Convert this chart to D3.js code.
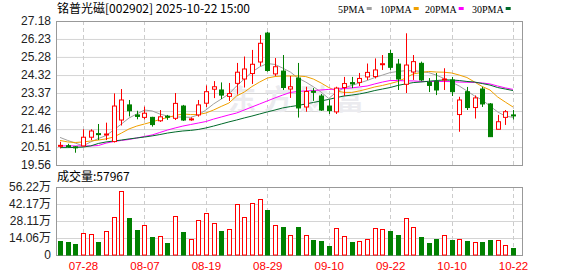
<!DOCTYPE html>
<html>
<head>
<meta charset="utf-8">
<script src="https://d3js.org/d3.v7.min.js"></script>
<style>
  body { margin: 0; background: #fff; }
  svg text { font-family: "Liberation Sans", Arial, "Noto Sans CJK SC", sans-serif; }
</style>
</head>
<body>
<div id="chart"></div>
<script>
// ---- data ----
const dates = ['07-23','07-24','07-25','07-28','07-29','07-30','07-31','08-01','08-04','08-05',
  '08-06','08-07','08-08','08-11','08-12','08-13','08-14','08-15','08-18','08-19',
  '08-20','08-21','08-22','08-25','08-26','08-27','08-28','08-29','09-01','09-02',
  '09-03','09-04','09-05','09-08','09-09','09-10','09-11','09-12','09-15','09-16',
  '09-17','09-18','09-19','09-22','09-23','09-24','09-25','09-26','09-29','09-30',
  '10-09','10-10','10-13','10-14','10-15','10-16','10-17','10-20','10-21','10-22'];

const open  = [20.60,20.58,20.52,20.57,21.03,21.22,21.17,20.80,21.94,22.74,
  22.21,22.08,22.08,21.90,22.14,22.03,22.68,21.97,22.21,22.83,
  23.57,23.53,23.19,23.88,24.11,24.40,25.01,26.54,24.38,24.53,
  23.58,24.16,22.63,23.46,23.21,22.68,22.37,23.66,23.92,23.93,
  24.22,24.24,24.88,25.46,24.90,23.83,24.48,24.94,23.93,23.97,
  24.06,24.06,22.23,23.44,22.60,23.58,22.79,21.45,22.08,22.21];
const high  = [20.79,20.68,20.55,21.45,21.45,21.73,21.80,23.35,23.58,23.00,
  22.43,22.65,22.11,22.47,22.21,23.37,22.74,22.08,23.00,23.77,
  24.00,23.93,23.90,24.96,25.30,25.65,26.44,26.60,25.22,25.38,
  24.27,24.96,23.70,23.63,23.32,23.00,23.70,24.22,24.22,24.43,
  24.93,25.20,25.38,25.65,25.17,26.53,25.38,25.03,24.16,24.43,
  24.68,24.22,23.17,23.69,23.24,23.70,22.84,22.21,22.47,22.47];
const low   = [20.44,20.50,20.21,20.55,20.88,20.88,20.88,20.75,21.65,22.13,
  21.98,21.98,21.59,21.84,21.95,21.94,21.89,21.90,22.12,22.63,
  23.10,23.05,22.95,23.29,23.66,23.85,24.80,24.50,24.27,23.53,
  23.11,22.07,22.38,22.95,22.42,22.26,22.26,23.21,23.63,23.74,
  24.06,24.14,24.59,24.59,23.53,23.37,24.06,24.00,23.42,23.26,
  23.53,23.21,21.32,22.47,22.02,22.63,21.05,21.45,21.68,21.97];
const close = [20.60,20.55,20.48,21.03,21.36,21.17,21.20,22.68,23.00,22.43,
  22.13,22.30,21.70,22.11,22.10,22.82,21.94,22.00,22.74,23.44,
  23.70,23.26,23.34,24.47,24.64,24.89,26.00,24.56,24.76,23.66,
  23.70,22.58,23.45,23.42,22.47,22.44,23.63,23.87,23.85,24.14,
  24.46,24.59,24.92,24.73,24.11,24.85,25.03,24.06,23.77,23.53,
  24.11,23.44,23.00,22.60,23.11,22.79,21.06,21.85,22.38,22.16];

// volume, in 万手
const volume = [11.8,11.0,9.3,18.2,17.4,11.0,19.8,31.4,52.7,30.6,
  20.9,24.5,15.1,15.4,10.2,32.0,19.3,13.0,28.7,34.5,
  26.2,19.8,21.2,41.9,31.2,42.7,46.0,37.2,24.5,23.1,
  16.3,23.1,16.3,12.4,11.6,7.4,22.0,15.4,11.0,11.6,
  13.0,22.0,21.2,19.8,16.5,30.3,22.9,14.9,9.9,13.2,
  16.3,12.4,13.2,11.6,10.5,10.7,12.4,12.1,8.0,5.7967];

const ma5  = [21.02,20.86,20.72,20.57,20.78,20.96,21.12,21.41,21.73,22.05,
  22.26,22.47,22.42,22.26,22.15,22.10,22.10,22.08,22.21,22.47,
  22.79,23.05,23.32,23.74,24.11,24.48,24.75,24.93,24.88,24.69,
  24.48,24.16,23.95,23.70,23.42,23.08,23.42,23.64,23.77,23.90,
  24.03,24.19,24.32,24.45,24.51,24.55,24.55,24.51,24.45,24.32,
  24.14,23.95,23.74,23.48,23.21,23.00,22.68,22.37,22.15,22.08];
const ma10 = [20.86,20.78,20.75,20.78,20.83,20.88,20.94,21.04,21.25,21.47,
  21.62,21.73,21.84,21.97,22.07,22.18,22.26,22.23,22.23,22.31,
  22.47,22.66,22.84,23.21,23.42,23.71,23.95,24.16,24.24,24.27,
  24.27,24.27,24.24,24.11,23.90,23.66,23.48,23.40,23.40,23.48,
  23.58,23.69,23.77,23.87,23.98,24.16,24.38,24.45,24.51,24.48,
  24.47,24.43,24.32,24.19,23.95,23.71,23.53,23.16,22.89,22.63];
const ma20 = [20.57,20.57,20.57,20.57,20.57,20.59,20.72,20.80,20.86,20.91,
  20.99,21.07,21.15,21.28,21.41,21.52,21.62,21.70,21.78,21.86,
  21.99,22.10,22.21,22.31,22.47,22.63,22.79,22.95,23.11,23.26,
  23.40,23.45,23.48,23.50,23.53,23.56,23.58,23.61,23.64,23.69,
  23.74,23.85,23.95,24.03,24.03,24.01,24.01,23.98,23.98,23.98,
  23.98,23.97,23.95,23.94,23.93,23.90,23.85,23.74,23.64,23.56];
const ma30 = [20.48,20.48,20.49,20.51,20.57,20.70,20.78,20.83,20.88,20.94,
  20.99,21.04,21.10,21.17,21.25,21.31,21.36,21.39,21.44,21.52,
  21.62,21.73,21.84,21.94,22.05,22.15,22.26,22.37,22.47,22.58,
  22.65,22.71,22.79,22.87,22.95,23.03,23.13,23.21,23.26,23.32,
  23.40,23.50,23.58,23.66,23.77,23.85,23.92,23.95,23.99,24.03,
  24.06,24.06,24.03,23.98,23.95,23.87,23.79,23.66,23.58,23.50];

const priceTicks = [19.56,20.51,21.46,22.42,23.37,24.32,25.28,26.23,27.18];
const volTicks = [0,14.06,28.11,42.17,56.22];
const dateTicks = ['07-28','08-07','08-19','08-29','09-10','09-22','10-10','10-22'];
const maNames = ['5PMA','10PMA','20PMA','30PMA'];
const maColors = ['#a0a0a0','#f0a000','#ff00ff','#006a2a'];

// ---- layout ----
const W = 578, H = 276;
const left = 56, right = 522;
const pTop = 21, pBot = 165, vTop = 187, vBot = 255;
const RED = '#ff0000', GREEN = '#008000';

const svg = d3.select('#chart').append('svg')
  .attr('width', W).attr('height', H);

const x = d3.scalePoint().domain(dates).range([60, 513]);
const y = d3.scaleLinear().domain([19.56, 27.18]).range([pBot, pTop]);
const yv = d3.scaleLinear().domain([0, 56.22]).range([vBot, vTop]);
const px = d => Math.round(x(d)) + 0.5;

// grid lines
svg.append('g')
  .attr('transform', `translate(${left},0)`)
  .call(d3.axisRight(y).tickValues(priceTicks).tickSize(right - left).tickFormat(''))
  .call(g => g.select('.domain').remove())
  .selectAll('line').attr('stroke', '#d4d4d4');
svg.append('g')
  .attr('transform', `translate(${left},0)`)
  .call(d3.axisRight(yv).tickValues(volTicks).tickSize(right - left).tickFormat(''))
  .call(g => g.select('.domain').remove())
  .selectAll('line').attr('stroke', '#d4d4d4');

[[pTop, pBot], [vTop, vBot]].forEach(([t, b]) => {
  svg.append('g').selectAll('line').data(dateTicks).join('line')
    .attr('x1', px).attr('x2', px).attr('y1', t).attr('y2', b)
    .attr('stroke', '#cccccc').attr('stroke-dasharray', '4,3');
});

// watermark
svg.append('text')
  .attr('x', 300).attr('y', 110)
  .attr('text-anchor', 'middle')
  .style('font-family', '"Noto Sans CJK SC", sans-serif')
  .style('font-size', '28px').style('font-weight', 'bold')
  .style('letter-spacing', '8px')
  .attr('fill', '#ebebef')
  .text('东方财富');

// borders
[[pTop, pBot], [vTop, vBot]].forEach(([t, b]) => {
  svg.append('rect')
    .attr('x', left + 0.5).attr('y', t + 0.5)
    .attr('width', right - left).attr('height', b - t)
    .attr('fill', 'none').attr('stroke', '#999');
});

// moving averages
const mas = [ma5, ma10, ma20, ma30];
mas.forEach((arr, k) => {
  svg.append('path')
    .datum(arr)
    .attr('fill', 'none')
    .attr('stroke', maColors[k])
    .attr('stroke-width', 1)
    .attr('d', d3.line().x((d, i) => x(dates[i])).y(d => y(d)));
});

// candles
const bw = 5;
const candles = svg.append('g').selectAll('g').data(dates).join('g');
const upC = i => close[i] >= open[i];
candles.append('line')
  .attr('x1', px).attr('x2', px)
  .attr('y1', (d, i) => y(high[i])).attr('y2', (d, i) => y(low[i]))
  .attr('stroke', (d, i) => upC(i) ? RED : GREEN);
candles.append('rect')
  .attr('x', d => Math.round(x(d)) - 2)
  .attr('y', (d, i) => y(Math.max(open[i], close[i])))
  .attr('width', bw - 1)
  .attr('height', (d, i) => Math.max(1, Math.abs(y(open[i]) - y(close[i]))))
  .attr('fill', (d, i) => upC(i) ? '#fff' : GREEN)
  .attr('stroke', (d, i) => upC(i) ? RED : GREEN)
  .attr('stroke-width', 1)
  .attr('transform', 'translate(0.5,0)');

// volume bars
const upV = i => close[i] > open[i];
svg.append('g').selectAll('rect').data(dates).join('rect')
  .attr('x', d => Math.round(x(d)) - 2)
  .attr('y', (d, i) => Math.round(yv(volume[i])) + 0.5)
  .attr('width', bw - 1)
  .attr('height', (d, i) => vBot - Math.round(yv(volume[i])) - 0.5)
  .attr('fill', (d, i) => upV(i) ? '#fff' : GREEN)
  .attr('stroke', (d, i) => upV(i) ? RED : GREEN)
  .attr('transform', 'translate(0.5,0)');

// axes labels
const fmtP = d3.format('.2f');
svg.append('g')
  .attr('transform', `translate(${left - 2},0)`)
  .call(d3.axisLeft(y).tickValues(priceTicks).tickSize(0).tickFormat(fmtP))
  .call(g => g.select('.domain').remove())
  .selectAll('text').attr('fill', '#222').style('font-size', '12px');

svg.append('g')
  .attr('transform', `translate(${left - 2},0)`)
  .call(d3.axisLeft(yv).tickValues(volTicks).tickSize(0)
    .tickFormat(d => d === 0 ? '0' : fmtP(d) + '万'))
  .call(g => g.select('.domain').remove())
  .selectAll('text').attr('fill', '#222').style('font-size', '12px')
  .style('font-family', '"Liberation Sans", "Noto Sans CJK SC", sans-serif');

svg.append('g')
  .attr('transform', `translate(0,${vBot + 4})`)
  .call(d3.axisBottom(x).tickValues(dateTicks).tickSize(0))
  .call(g => g.select('.domain').remove())
  .selectAll('text').attr('fill', RED).style('font-size', '11.5px');

// title and legend
svg.append('text')
  .attr('x', 57).attr('y', 13)
  .style('font-family', '"Noto Sans CJK SC", sans-serif')
  .style('font-size', '12px').attr('fill', '#000')
  .text('铭普光磁[002902] 2025-10-22 15:00');

const legendX = [338, 380, 425, 472];
maNames.forEach((n, k) => {
  const t = svg.append('text')
    .attr('x', legendX[k]).attr('y', 13)
    .style('font-family', '"Liberation Serif", serif')
    .style('font-size', '10px').attr('fill', '#000')
    .text(n);
  const w = t.node().getComputedTextLength();
  svg.append('rect')
    .attr('x', legendX[k] + w + 2).attr('y', 7)
    .attr('width', 5).attr('height', 3)
    .attr('fill', maColors[k]);
});

svg.append('text')
  .attr('x', 57).attr('y', 181)
  .style('font-family', '"Noto Sans CJK SC", sans-serif')
  .style('font-size', '12px').attr('fill', '#000')
  .text('成交量:' + Math.round(volume[volume.length - 1] * 10000));
</script>
</body>
</html>
